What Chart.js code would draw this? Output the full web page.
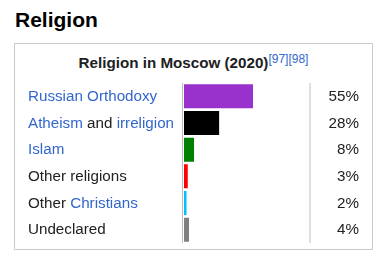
<!DOCTYPE html>
<html>
<head>
<meta charset="utf-8">
<script src="https://cdn.jsdelivr.net/npm/chart.js@4/dist/chart.umd.min.js"></script>
<style>
  html, body { margin: 0; padding: 0; background: #fff; }
  body { width: 386px; height: 269px; position: relative; overflow: hidden;
         font-family: "Liberation Sans", Arial, sans-serif; color: #202122; }
  h2 { position: absolute; left: 15px; top: 9px; margin: 0;
       font-size: 21px; line-height: 21px; font-weight: bold; color: #000; }
  .box { position: absolute; left: 14px; top: 43px; width: 357px; height: 205px;
         border: 1px solid #c8ccd1; }
  .caption { position: absolute; left: 14px; top: 55px; width: 359px; text-align: center;
             font-size: 15.2px; line-height: 16px; font-weight: bold; color: #202122; }
  .caption sup { font-size: 12px; line-height: 0; font-weight: normal; vertical-align: 5px; color: #3366cc; }
  canvas { position: absolute; left: 0; top: 0; }
</style>
</head>
<body>
<h2>Religion</h2>
<div class="box"></div>
<div class="caption">Religion in Moscow (2020)<sup>[97][98]</sup></div>
<canvas id="chart" width="386" height="269"></canvas>
<script>
// Religion in Moscow, 2020 survey (percent of population)
const categories = ['Russian Orthodoxy', 'Atheism and irreligion', 'Islam', 'Other religions', 'Other Christians', 'Undeclared'];
const values = [55, 28, 8, 3, 2, 4];
const valueLabels = ['55%', '28%', '8%', '3%', '2%', '4%'];
// words in each category label that are wiki links (drawn in link blue)
const linkedWords = [['Russian Orthodoxy'], ['Atheism', 'irreligion'], ['Islam'], [], ['Christians'], []];
const barColors = ['#9932cc', '#000000', '#008000', '#ff0000', '#00bfff', '#808080'];

const TEXT = '#202122';
const LINK = '#3366cc';
const RULE = '#c0c0c0';
const FONT = '15.2px "Liberation Sans", Arial, sans-serif';

function splitLabel(label, links) {
  const parts = [];
  let rest = label;
  links.forEach(word => {
    const at = rest.indexOf(word);
    if (at < 0) return;
    if (at > 0) parts.push({ text: rest.slice(0, at), link: false });
    parts.push({ text: word, link: true });
    rest = rest.slice(at + word.length);
  });
  if (rest) parts.push({ text: rest, link: false });
  return parts;
}

const tableText = {
  id: 'tableText',
  afterDraw(chart) {
    const { ctx, chartArea } = chart;
    const y = chart.scales.y;
    ctx.save();
    // divider rules on both sides of the bar column
    ctx.strokeStyle = RULE;
    ctx.lineWidth = 1;
    ctx.beginPath();
    ctx.moveTo(chartArea.left - 1.5, chartArea.top);
    ctx.lineTo(chartArea.left - 1.5, chartArea.bottom);
    ctx.moveTo(chartArea.right + 0.5, chartArea.top);
    ctx.lineTo(chartArea.right + 0.5, chartArea.bottom);
    ctx.stroke();

    ctx.font = FONT;
    ctx.textBaseline = 'alphabetic';
    categories.forEach((label, i) => {
      const base = y.getPixelForValue(i) + 4.5;
      let x = 28;
      ctx.textAlign = 'left';
      splitLabel(label, linkedWords[i]).forEach(p => {
        ctx.fillStyle = p.link ? LINK : TEXT;
        ctx.fillText(p.text, x, base);
        x += ctx.measureText(p.text).width;
      });
      ctx.textAlign = 'right';
      ctx.fillStyle = TEXT;
      ctx.fillText(valueLabels[i], 359, base);
    });
    ctx.restore();
  }
};

new Chart(document.getElementById('chart'), {
  type: 'bar',
  data: {
    labels: categories,
    datasets: [{
      data: values,
      backgroundColor: barColors,
      borderWidth: 0,
      categoryPercentage: 1,
      barPercentage: 0.9
    }]
  },
  options: {
    indexAxis: 'y',
    responsive: false,
    animation: false,
    devicePixelRatio: 1,
    layout: { padding: { left: 184, right: 76.5, top: 83, bottom: 26 } },
    scales: {
      x: { display: false, min: 0, max: 100 },
      y: { display: false }
    },
    plugins: {
      legend: { display: false },
      tooltip: { enabled: false },
      title: { display: false }
    }
  },
  plugins: [tableText]
});
</script>
</body>
</html>
